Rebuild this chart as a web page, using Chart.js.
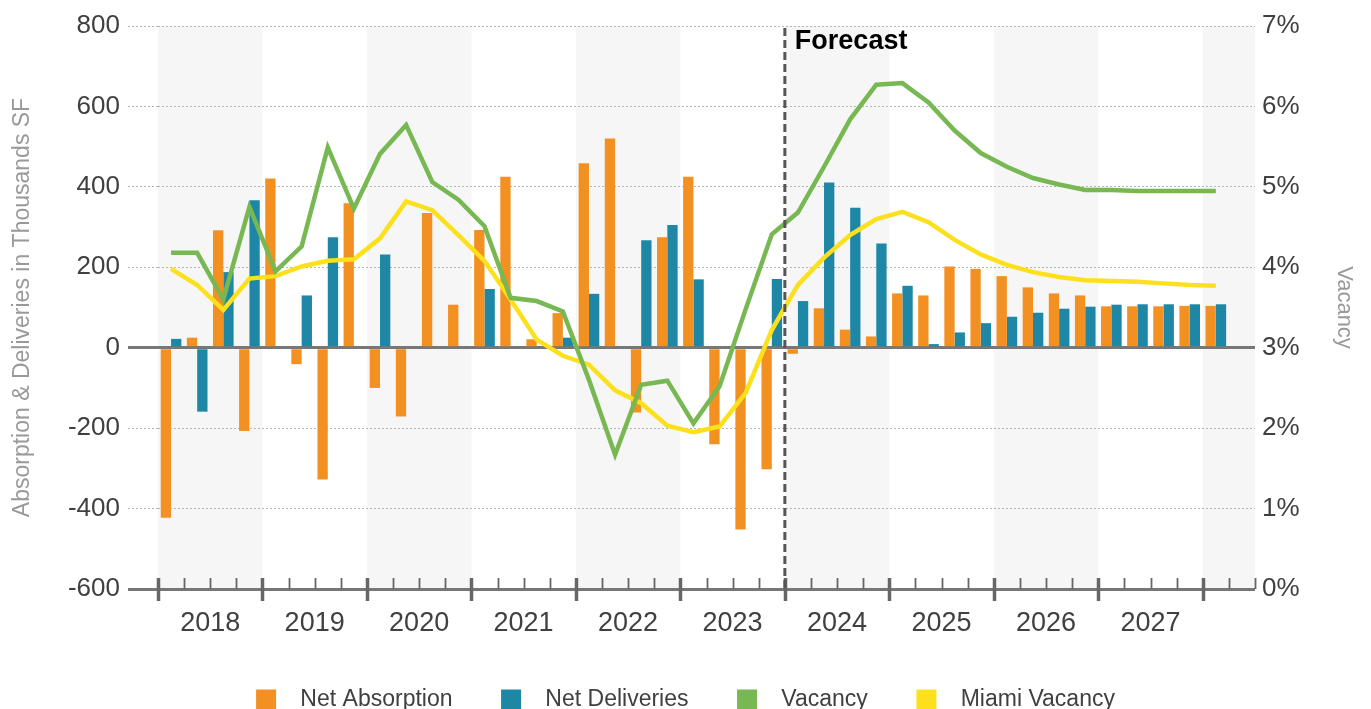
<!DOCTYPE html>
<html>
<head>
<meta charset="utf-8">
<title>Absorption, Deliveries and Vacancy</title>
<script src="https://cdn.jsdelivr.net/npm/chart.js@4.4.1/dist/chart.umd.min.js"></script>
<style>
    html, body { margin: 0; padding: 0; background: #fff; overflow: hidden; }
    #wrap { position: relative; width: 1371px; height: 709px; }
</style>
</head>
<body>
<div id="wrap"><canvas id="vacancyChart"></canvas></div>
<script>
"use strict";

// quarterly data, 2018 Q1 .. 2028 Q1 (the axis runs one empty quarter further)
var years = ['2018', '2019', '2020', '2021', '2022', '2023', '2024', '2025', '2026', '2027', '2028'];
var yearLabels = ['2018', '2019', '2020', '2021', '2022', '2023', '2024', '2025', '2026', '2027'];
var forecastStart = 24; // 2024 Q1

var netAbsorption = [
    -423, 25, 292, -207,
    421, -41, -328, 359,
    -100, -171, 335, 107,
    293, 425, 21, 86,
    459, 520, -161, 275,
    425, -240, -452, -302,
    -15, 98, 45, 28,
    135, 130, 202, 196,
    178, 150, 135, 130,
    103, 103, 103, 104,
    104
];
var netDeliveries = [
    22, -159, 188, 367,
    4, 130, 275, 0,
    232, 0, 0, 0,
    146, 0, 0, 25,
    134, 0, 267, 305,
    170, 0, 0, 171,
    116, 411, 348, 259,
    154, 9, 38, 61,
    77, 87, 97, 102,
    107, 108, 108, 108,
    108
];
var vacancy = [
    4.18, 4.18, 3.60, 4.75,
    3.95, 4.26, 5.49, 4.73,
    5.41, 5.77, 5.06, 4.84,
    4.51, 3.62, 3.58, 3.45,
    2.60, 1.67, 2.54, 2.59,
    2.06, 2.52, 3.48, 4.41,
    4.68, 5.25, 5.84, 6.27,
    6.29, 6.05, 5.70, 5.42,
    5.25, 5.11, 5.03, 4.96,
    4.96, 4.95, 4.95, 4.95,
    4.95
];
var miamiVacancy = [
    3.98, 3.78, 3.47, 3.86,
    3.89, 4.01, 4.08, 4.10,
    4.36, 4.82, 4.71, 4.40,
    4.08, 3.60, 3.10, 2.90,
    2.79, 2.47, 2.31, 2.03,
    1.95, 2.02, 2.44, 3.22,
    3.78, 4.12, 4.40, 4.60,
    4.69, 4.56, 4.34, 4.16,
    4.03, 3.94, 3.88, 3.84,
    3.83, 3.82, 3.80, 3.78,
    3.77
];

var quarters = [];
years.forEach(function (y) {
    ['Q1', 'Q2', 'Q3', 'Q4'].forEach(function (q) { quarters.push(y + ' ' + q); });
});
quarters = quarters.slice(0, 42);

var FONT = "'Liberation Sans', Arial, sans-serif";
var TEXT = '#404040';
var GREY = '#777777';

var vacancyChart = function () {
    var solid = function (c) { return c.tick && (c.tick.value === 0 || c.tick.value === -600); };

    // shaded years, quarter tick marks and the forecast marker
    var decorations = {
        id: 'decorations',
        beforeDraw: function (chart) {
            var x = chart.scales.x, area = chart.chartArea, ctx = chart.ctx;
            ctx.save();
            ctx.fillStyle = '#f6f6f6';
            for (var k = 0; k < years.length; k += 2) {
                var a = x.getPixelForValue(k * 4 - 0.5);
                var b = x.getPixelForValue(Math.min(k * 4 + 4, quarters.length) - 0.5);
                ctx.fillRect(a, area.top, b - a, area.bottom - area.top);
            }
            ctx.restore();
        },
        afterDatasetsDraw: function (chart) {
            var x = chart.scales.x, area = chart.chartArea, ctx = chart.ctx;
            ctx.save();
            ctx.strokeStyle = '#666666';
            for (var i = 0; i <= quarters.length; i++) {
                var px = Math.round(x.getPixelForValue(i - 0.5)) + 0.5;
                var major = i % 4 === 0;
                ctx.lineWidth = major ? 3.5 : 1.8;
                ctx.beginPath();
                ctx.moveTo(px, area.bottom - 11);
                ctx.lineTo(px, area.bottom + (major ? 12 : 0));
                ctx.stroke();
            }

            var fx = x.getPixelForValue(forecastStart - 0.5);
            ctx.strokeStyle = '#555555';
            ctx.lineWidth = 3;
            ctx.setLineDash([8, 4]);
            ctx.beginPath();
            ctx.moveTo(fx, area.top + 2);
            ctx.lineTo(fx, area.bottom);
            ctx.stroke();
            ctx.setLineDash([]);

            ctx.fillStyle = '#000000';
            ctx.font = 'bold 27px ' + FONT;
            ctx.textBaseline = 'middle';
            ctx.textAlign = 'left';
            ctx.fillText('Forecast', fx + 10, area.top + 16);
            ctx.restore();
        }
    };

    var ctx = $('vacancyChart').getContext('2d');
    new Chart(ctx, {
        type: 'bar',
        data: {
            labels: quarters,
            datasets: [{
                label: 'Net Absorption',
                data: netAbsorption,
                backgroundColor: '#F39022',
                yAxisID: 'y',
                order: 3,
                barPercentage: 1.0,
                categoryPercentage: 0.79
            }, {
                label: 'Net Deliveries',
                data: netDeliveries,
                backgroundColor: '#1F87A6',
                yAxisID: 'y',
                order: 3,
                barPercentage: 1.0,
                categoryPercentage: 0.79
            }, {
                type: 'line',
                label: 'Vacancy',
                data: vacancy,
                borderColor: '#77B853',
                backgroundColor: '#77B853',
                borderWidth: 4.5,
                pointRadius: 0,
                tension: 0,
                yAxisID: 'y1',
                order: 1
            }, {
                type: 'line',
                label: 'Miami Vacancy',
                data: miamiVacancy,
                borderColor: '#FCE01C',
                backgroundColor: '#FCE01C',
                borderWidth: 4.5,
                pointRadius: 0,
                tension: 0,
                yAxisID: 'y1',
                order: 2
            }]
        },
        options: {
            responsive: true,
            maintainAspectRatio: false,
            animation: false,
            layout: {
                // negative bottom lets the legend run off the edge, as in the original
                padding: { top: 26, left: 0, right: 0, bottom: -12 }
            },
            plugins: {
                tooltip: { enabled: false },
                legend: {
                    display: true,
                    position: 'bottom',
                    labels: {
                        boxWidth: 20,
                        boxHeight: 20,
                        padding: 23,
                        color: TEXT,
                        font: { family: FONT, size: 23 },
                        generateLabels: function (chart) {
                            var n = chart.data.datasets.length;
                            return chart.data.datasets.map(function (ds, i) {
                                return {
                                    text: '  ' + ds.label + (i < n - 1 ? '    ' : ''),
                                    fillStyle: ds.backgroundColor,
                                    strokeStyle: ds.backgroundColor,
                                    fontColor: TEXT,
                                    lineWidth: 0,
                                    hidden: false,
                                    datasetIndex: i
                                };
                            });
                        }
                    }
                }
            },
            scales: {
                x: {
                    offset: true,
                    grid: { display: false, drawTicks: false },
                    border: { display: false },
                    ticks: {
                        autoSkip: false,
                        maxRotation: 0,
                        minRotation: 0,
                        padding: 18,
                        labelOffset: 13,
                        color: TEXT,
                        font: { family: FONT, size: 27 },
                        callback: function (val, i) {
                            return i % 4 === 1 && yearLabels[(i - 1) / 4] ? yearLabels[(i - 1) / 4] : '';
                        }
                    },
                    afterFit: function (scale) { scale.height = 76; }
                },
                y: {
                    position: 'left',
                    min: -600,
                    max: 800,
                    ticks: {
                        stepSize: 200,
                        padding: 8,
                        color: TEXT,
                        font: { family: FONT, size: 26 }
                    },
                    grid: {
                        tickLength: 30,
                        color: function (c) { return solid(c) ? GREY : '#b5b5b5'; },
                        tickColor: function (c) { return solid(c) ? GREY : '#b5b5b5'; },
                        lineWidth: function (c) { return solid(c) ? 3 : 1; },
                        tickWidth: function (c) { return solid(c) ? 3 : 1; },
                        tickBorderDash: function (c) { return solid(c) ? [] : [2, 2]; }
                    },
                    border: {
                        display: false,
                        dash: function (c) { return solid(c) ? [] : [2, 2]; }
                    },
                    title: {
                        display: true,
                        text: 'Absorption & Deliveries in Thousands SF',
                        color: '#999999',
                        font: { family: FONT, size: 23 },
                        padding: { top: 9, bottom: 0 }
                    },
                    afterFit: function (scale) { scale.width = 158; }
                },
                y1: {
                    position: 'right',
                    min: 0,
                    max: 7,
                    ticks: {
                        stepSize: 1,
                        padding: 7,
                        color: TEXT,
                        font: { family: FONT, size: 26 },
                        callback: function (v) { return v + '%'; }
                    },
                    grid: { drawOnChartArea: false, drawTicks: false },
                    border: { display: false },
                    title: {
                        display: true,
                        text: 'Vacancy',
                        color: '#999999',
                        font: { family: FONT, size: 22 },
                        padding: { top: 14, bottom: 0 }
                    },
                    afterFit: function (scale) { scale.width = 116; }
                }
            }
        },
        plugins: [decorations]
    });

    function $(id) { return document.getElementById(id); }
};

vacancyChart();
</script>
</body>
</html>
